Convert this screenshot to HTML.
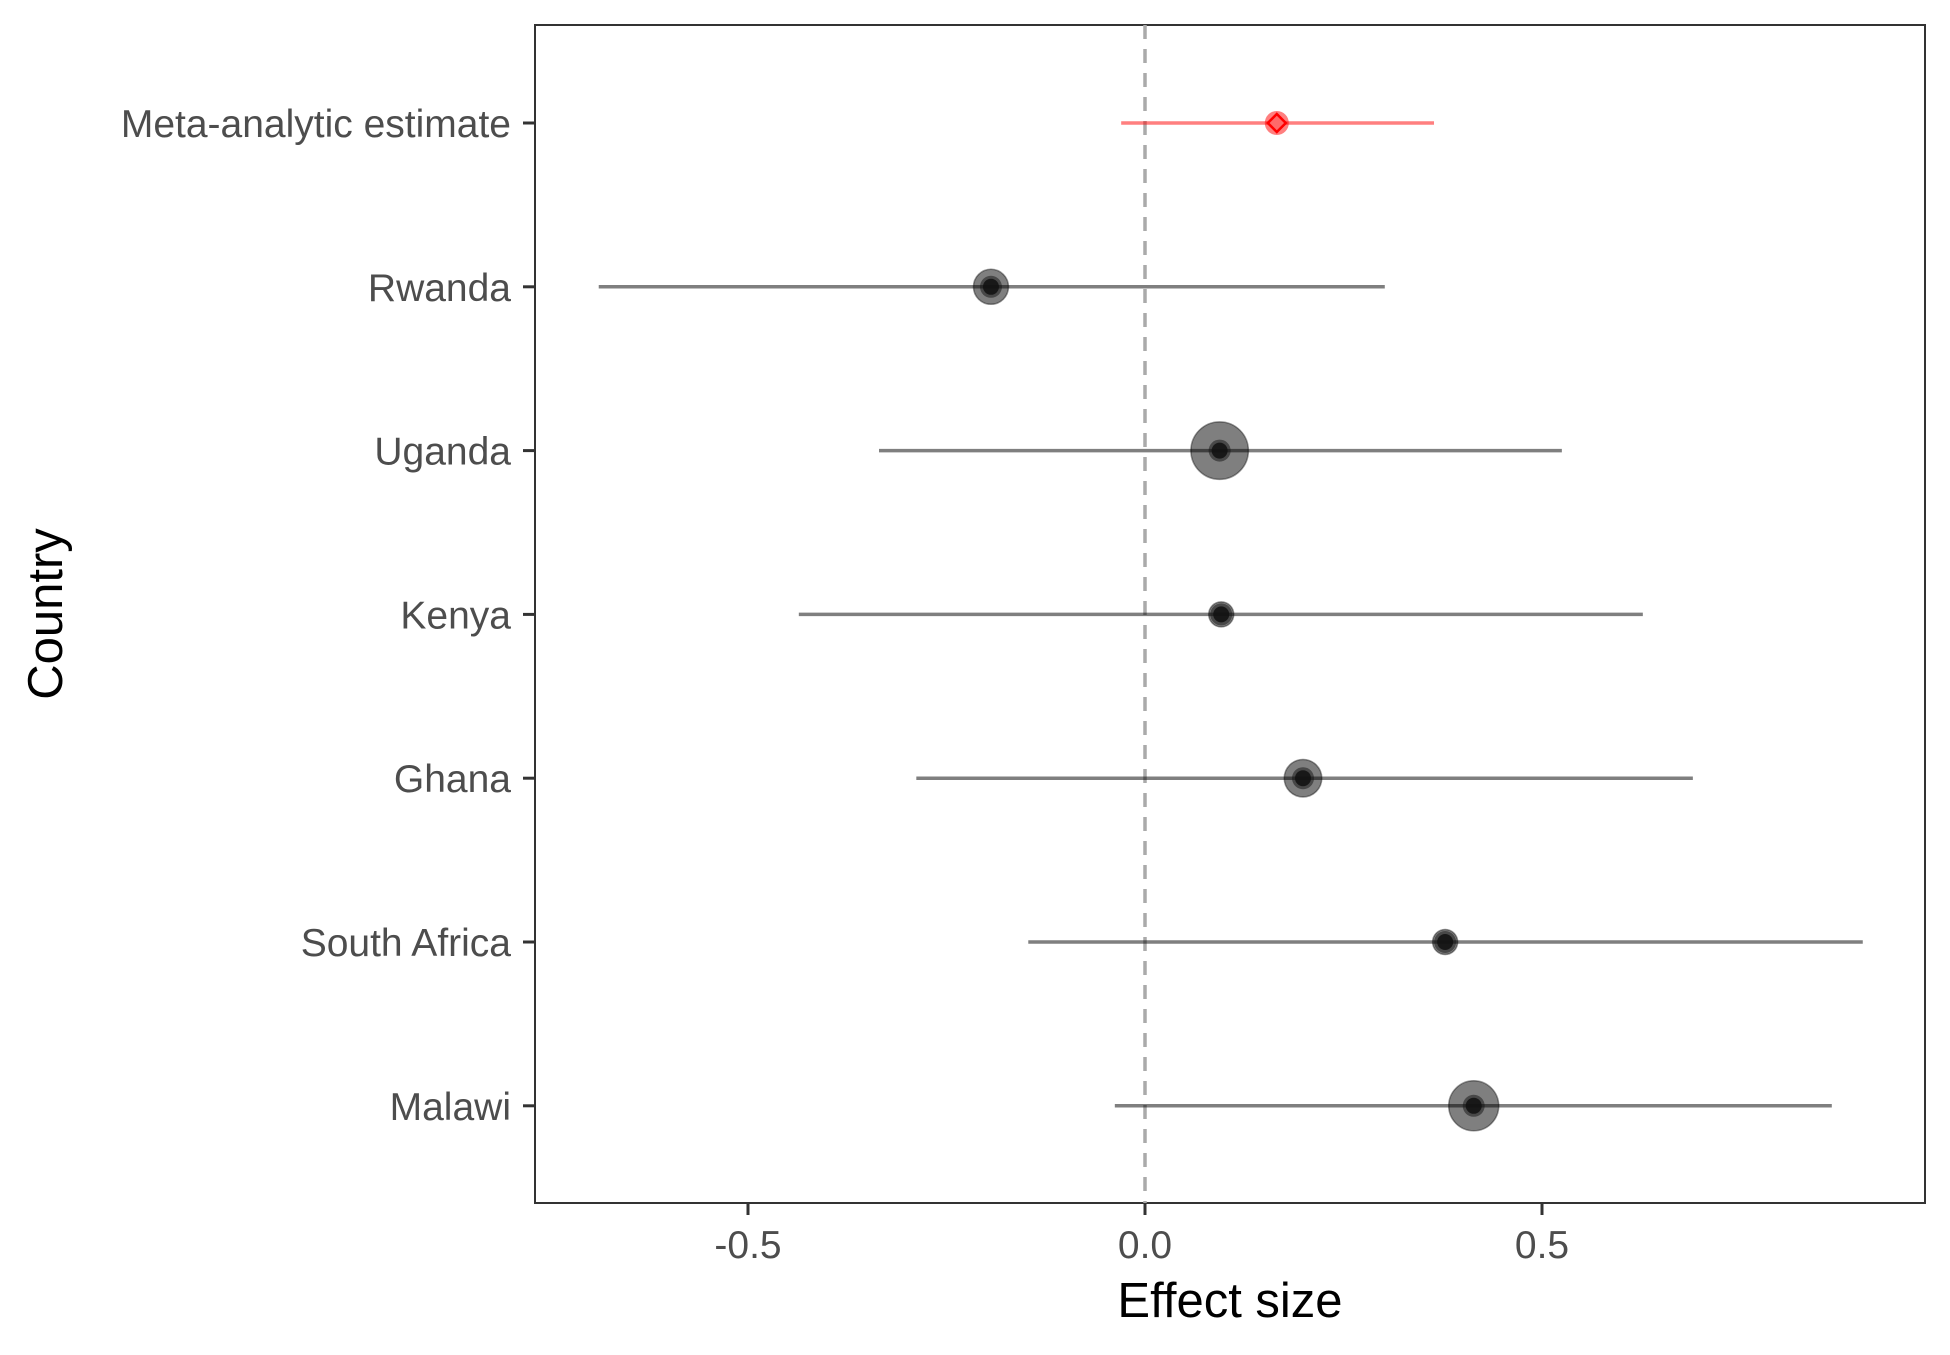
<!DOCTYPE html>
<html><head><meta charset="utf-8"><style>
body{margin:0;background:#fff}
svg text{font-family:"Liberation Sans",Arial,sans-serif}
</style></head><body>
<svg id="chart" width="1950" height="1350" xmlns="http://www.w3.org/2000/svg">
<rect width="1950" height="1350" fill="#fff"/>
<g id="plot"></g>
</svg>
<script>
const countries = ["Meta-analytic estimate","Rwanda","Uganda","Kenya","Ghana","South Africa","Malawi"];
const estimates = [0.166,-0.194,0.094,0.096,0.199,0.378,0.414];
const lower = [-0.03,-0.688,-0.335,-0.436,-0.288,-0.147,-0.038];
const upper = [0.364,0.302,0.525,0.627,0.69,0.904,0.865];
const weights = [0,14,23,10,15,10,20];
const xTicks = [-0.5,0,0.5];
const xTickLabels = ["-0.5","0.0","0.5"];

const NS="http://www.w3.org/2000/svg";
const g=document.getElementById('plot');
const L=535,R=1925,T=25,B=1203;
const x=v=>1145+v*794;
const y=i=>123+i*163.8;
function mk(t,a,p){const e=document.createElementNS(NS,t);for(const k in a)e.setAttribute(k,a[k]);(p||g).appendChild(e);return e;}

const panel=mk('rect',{x:L,y:T,width:R-L,height:B-T,fill:'none',stroke:'#333','stroke-width':2});



const zl=mk('line',{x1:x(0),x2:x(0),y1:T,y2:B,stroke:'#aaa','stroke-width':3.5,'stroke-dasharray':'14,10'});



countries.forEach((c,i)=>{
  const yy=y(i);
  const tk=mk('line',{x1:L-12,x2:L,y1:yy,y2:yy,stroke:'#333','stroke-width':3});
  
  
  const t=mk('text',{x:511,y:yy+14,'text-anchor':'end','font-size':39,fill:'#4d4d4d'});
  t.textContent=c;
  
  
  const meta=i===0;
  const col=meta?'#ff0000':'#000';
  const ci=mk('line',{x1:x(lower[i]),x2:x(upper[i]),y1:yy,y2:yy,stroke:col,'stroke-opacity':0.5,'stroke-width':3.5});
  
  
  if(meta){
    const cx=x(estimates[i]);
    const c1=mk('circle',{cx:cx,cy:yy,r:12,fill:'#ff0000','fill-opacity':0.5});
    
    
    const d=mk('polygon',{points:`${cx},${yy-9} ${cx+9},${yy} ${cx},${yy+9} ${cx-9},${yy}`,fill:'#ff6a6a',stroke:'#ff0000','stroke-width':2.5});
    
    
  } else {
    const c1=mk('circle',{cx:x(estimates[i]),cy:yy,r:weights[i]*1.25,fill:'#000','fill-opacity':0.5,stroke:'#000','stroke-opacity':0.4,'stroke-width':1.5});
    
    
    const c2=mk('circle',{cx:x(estimates[i]),cy:yy,r:11,fill:'#111','fill-opacity':0.5});
    
    
    const c3=mk('circle',{cx:x(estimates[i]),cy:yy,r:8,fill:'#111','fill-opacity':0.85});
    
    
  }
});

xTicks.forEach((v,i)=>{
  const tk=mk('line',{x1:x(v),x2:x(v),y1:B,y2:B+12,stroke:'#333','stroke-width':3});
  
  
  const t=mk('text',{x:x(v),y:1258,'text-anchor':'middle','font-size':39,fill:'#4d4d4d'});
  t.textContent=xTickLabels[i];
  
  
});

const xt=mk('text',{x:(L+R)/2,y:1317,'text-anchor':'middle','font-size':49,fill:'#000'});
xt.textContent='Effect size';


const yt=mk('text',{x:0,y:0,'text-anchor':'middle','font-size':49,fill:'#000',transform:`translate(62,${(T+B)/2}) rotate(-90)`});
yt.textContent='Country';


</script>
</body></html>
